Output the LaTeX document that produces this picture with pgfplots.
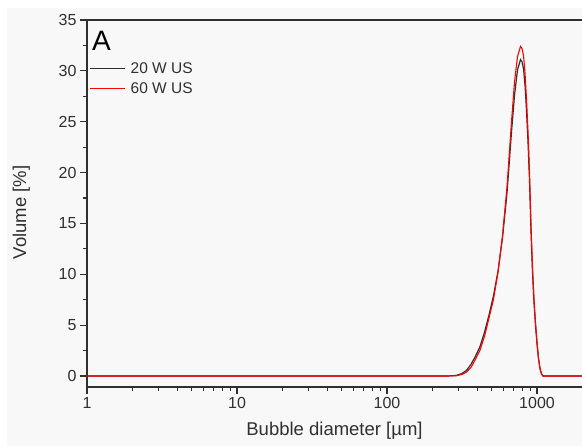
\documentclass[border=0pt]{standalone}
\usepackage{pgfplots}
\pgfplotsset{compat=1.18}
\usepackage{fontspec}
\setmainfont{Liberation Sans}
\definecolor{bggray}{HTML}{F8F8F8}
\definecolor{axgray}{HTML}{303030}
\definecolor{curveblack}{HTML}{2E2E2E}
\begin{document}
\begin{tikzpicture}[x=1pt,y=1pt]
\useasboundingbox (0,0) rectangle (582,446);
\fill[bggray] (7,0) rectangle (582,438);
\begin{axis}[
  at={(87pt,59pt)}, anchor=south west, scale only axis,
  width=495pt, height=367pt,
  xmode=log, xmin=1, xmax=1995, ymin=-1.08, ymax=35,
  clip=false,
  axis lines*=left,
  axis line style={axgray, line width=1.4pt},
  tick align=outside,
  major tick length=7pt, minor tick length=4pt,
  every tick/.style={axgray, line width=1.2pt},
  xtick={1,10,100,1000}, xticklabels={1,10,100,1000},
  ytick={0,5,...,35}, minor y tick num=1,
  tick label style={font=\fontsize{16}{19}\selectfont, text=axgray},
  /pgf/number format/assume math mode=true,
  every axis x label/.style={at={(axis description cs:0.5,-0.1335)}, anchor=base},
  every axis y label/.style={at={(axis description cs:-0.1232,0.4755)}, anchor=base, rotate=90},
  xlabel style={font=\fontsize{18.5}{22}\selectfont, text=axgray},
  ylabel style={font=\fontsize{18.5}{22}\selectfont, text=axgray},
  xlabel={Bubble diameter [µm]},
  ylabel={Volume [\%]},
  legend style={at={(0.004,0.882)}, anchor=north west, draw=none, fill=none,
    inner sep=0pt, outer sep=0pt, font=\fontsize{15.5}{18}\selectfont,
    row sep=9.3pt, column sep=5.5pt,
    nodes={inner sep=0pt, text height=10.7pt, text depth=0pt, text=axgray}},
  legend cell align=left,
  legend image code/.code={\draw[#1] (0pt,0pt) -- (35pt,0pt);},
]
\addplot[curveblack, line width=1.2pt] coordinates {
(1,0) (251.2,0) (288.4,0.05) (316.2,0.25) (338.8,0.55) (363.1,1.15) (389.0,1.95)
(416.9,2.9) (446.7,4.3) (478.6,6.0) (512.9,7.9) (549.5,10.3) (588.8,13.6)
(631.0,18.0) (676.1,24.0) (707.9,27.6) (741.3,30.1) (776.2,31.1) (794.3,30.9)
(812.8,30.2) (831.8,28.6) (851.1,26.1) (871.0,23.0) (891.3,19.2) (912.0,14.2)
(933.3,10.2) (955.0,7.2) (977.2,5.0) (1000,3.2) (1023,1.7) (1047,0.72)
(1072,0.2) (1096,0) (1995,0)
};
\addlegendentry{20 W US}
\addplot[red, line width=1.1pt] coordinates {
(1,0) (251.2,0) (288.4,0.02) (316.2,0.15) (338.8,0.39) (363.1,0.85) (389.0,1.65)
(416.9,2.55) (446.7,3.9) (478.6,5.7) (512.9,7.55) (549.5,10.2) (588.8,13.8)
(631.0,18.6) (676.1,25.0) (707.9,28.9) (741.3,31.4) (776.2,32.4) (794.3,32.2)
(812.8,31.5) (831.8,29.8) (851.1,27.2) (871.0,24.0) (891.3,20.0) (912.0,14.8)
(933.3,10.6) (955.0,7.5) (977.2,5.2) (1000,3.3) (1023,1.75) (1047,0.75)
(1072,0.2) (1096,0) (1995,0)
};
\addlegendentry{60 W US}
\draw[axgray, line width=1.4pt] (rel axis cs:0,1) -- (rel axis cs:1,1);
\end{axis}
\node[anchor=base west, inner sep=0pt, font=\fontsize{28}{30}\selectfont, text=black] at (92,395) {A};
\end{tikzpicture}
\end{document}
